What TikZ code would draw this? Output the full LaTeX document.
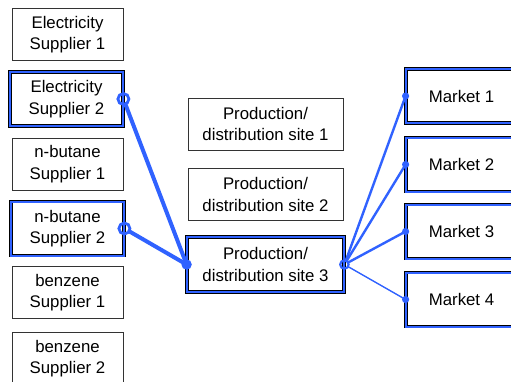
\documentclass[tikz,border=0pt]{standalone}
\usepackage{fontspec}
\setmainfont{Liberation Sans}
\definecolor{linkblue}{RGB}{48,98,255}
\begin{document}
\begin{tikzpicture}[x=1pt,y=-1pt,
  box/.style={draw=black!80, line width=0.9pt, fill=white,
    minimum width=111pt, minimum height=52pt, inner sep=0pt,
    align=center, font=\fontsize{16.8}{21.5}\selectfont},
  hibox/.style={box, draw=black, double=linkblue, double distance=2pt,
    line width=0.8pt, minimum width=113pt, minimum height=54pt},
  wide/.style={minimum width=155pt},
  feed/.style={draw=linkblue, line width=4pt},
  ship/.style={draw=linkblue, line width=2.4pt},
  shipthin/.style={draw=linkblue, line width=1.4pt},
  ring/.style={draw=linkblue, line width=2.8pt},
  smallring/.style={draw=linkblue, line width=2.2pt},
]
\useasboundingbox (0,0) rectangle (511,381);

% suppliers
\node[box]   (es1) at (67.5,34.5)  {Electricity\\Supplier 1};
\node[hibox] (es2) at (66.5,99)    {Electricity\\Supplier 2};
\node[box]   (nb1) at (67.5,164)   {n-butane\\Supplier 1};
\node[hibox] (nb2) at (67.5,228.5) {n-butane\\Supplier 2};
\node[box]   (bz1) at (67.5,292.5) {benzene\\Supplier 1};
\node[box]   (bz2) at (67.5,358.5) {benzene\\Supplier 2};

% production / distribution sites
\node[box, wide] (s1) at (265.5,124)   {Production/\\distribution site 1};
\node[box, wide] (s2) at (265.5,194.5) {Production/\\distribution site 2};
\node[hibox, wide, minimum width=157pt, minimum height=55pt] (s3) at (265.5,264.5) {Production/\\distribution site 3};

% markets
\node[hibox, minimum width=111pt] (m1) at (461.5,96)    {Market 1};
\node[hibox, minimum width=111pt] (m2) at (461.5,164.5) {Market 2};
\node[hibox, minimum width=111pt] (m3) at (461.5,231.5) {Market 3};
\node[hibox, minimum width=111pt] (m4) at (461.5,299.5) {Market 4};

% supply links
\draw[feed, shorten <=5.5pt] (es2.east) -- (s3.west);
\draw[feed, shorten <=5.5pt] (nb2.east) -- (s3.west);
\draw[ring] (es2.east) circle[radius=5.5pt];
\draw[ring] (nb2.east) circle[radius=5.5pt];
\fill[linkblue] (s3.west) circle[radius=5.2pt];

% distribution links
\draw[ship, shorten <=4.2pt] (s3.east) -- (m1.west);
\draw[ship, shorten <=4.2pt] (s3.east) -- (m2.west);
\draw[ship, shorten <=4.2pt] (s3.east) -- (m3.west);
\draw[shipthin, shorten <=4.2pt] (s3.east) -- (m4.west);
\draw[smallring] (s3.east) circle[radius=4.2pt];
\foreach \m in {m1,m2,m3,m4}
  \fill[linkblue] (\m.west) circle[radius=3.6pt];
\end{tikzpicture}
\end{document}
